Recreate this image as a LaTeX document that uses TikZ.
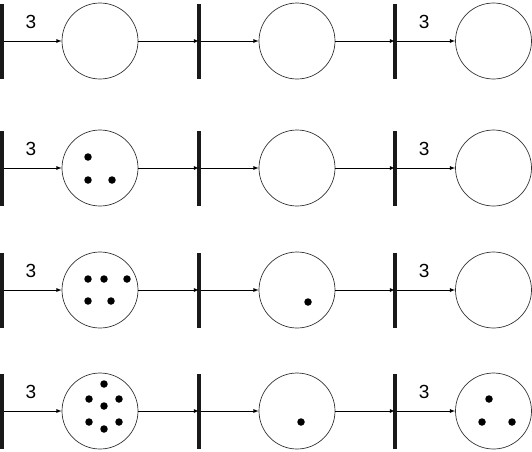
\documentclass[tikz,border=0pt]{standalone}
\usepackage{fontspec}
\setmainfont{Liberation Sans}
\usepackage{tikz}
\usetikzlibrary{arrows}
\tikzset{place/.style={circle,draw=black!80,line width=0.7pt,minimum size=76pt,inner sep=0pt},
	trans/.style={rectangle,fill=black!90,minimum width=4pt,minimum height=75pt,inner sep=0pt},
	tok/.style={circle,fill=black,minimum size=7.5pt,inner sep=0pt},
	arc/.style={->,>=latex,line width=0.8pt},
	wt/.style={midway,above=12pt,xshift=-2pt,inner sep=0pt,font=\fontsize{19}{19}\selectfont}}

\begin{document}
\begin{tikzpicture}[x=1pt,y=-1pt]
				\useasboundingbox (0,0) rectangle (532,451);
				% row 1
				\node[trans] (t11) at (2,41) {};
				\node[place] (p11) at (100,41) {};
				\node[trans] (t12) at (199,41) {};
				\node[place] (p12) at (297,41) {};
				\node[trans] (t13) at (395,41) {};
				\node[place] (p13) at (493.5,41) {};
				\draw[arc] (t11) -- (p11) node[wt]{3};
				\draw[arc] (p11) -- (t12.center);
				\draw[arc] (t12) -- (p12);
				\draw[arc] (p12) -- (t13.center);
				\draw[arc] (t13) -- (p13) node[wt]{3};
				% row 2
				\node[trans] (t21) at (2,168) {};
				\node[place] (p21) at (100,168) {};
				\node[trans] (t22) at (199,168) {};
				\node[place] (p22) at (297,168) {};
				\node[trans] (t23) at (395,168) {};
				\node[place] (p23) at (493.5,168) {};
				\draw[arc] (t21) -- (p21) node[wt]{3};
				\draw[arc] (p21) -- (t22.center);
				\draw[arc] (t22) -- (p22);
				\draw[arc] (p22) -- (t23.center);
				\draw[arc] (t23) -- (p23) node[wt]{3};
				\node[tok] (k211) at (88,157) {};
				\node[tok] (k212) at (88,180) {};
				\node[tok] (k213) at (112,180) {};
				% row 3
				\node[trans] (t31) at (2,290) {};
				\node[place] (p31) at (100,290) {};
				\node[trans] (t32) at (199,290) {};
				\node[place] (p32) at (297,290) {};
				\node[trans] (t33) at (395,290) {};
				\node[place] (p33) at (493.5,290) {};
				\draw[arc] (t31) -- (p31) node[wt]{3};
				\draw[arc] (p31) -- (t32.center);
				\draw[arc] (t32) -- (p32);
				\draw[arc] (p32) -- (t33.center);
				\draw[arc] (t33) -- (p33) node[wt]{3};
				\node[tok] (k311) at (88,279) {};
				\node[tok] (k312) at (104,279) {};
				\node[tok] (k313) at (127,279) {};
				\node[tok] (k314) at (88,301) {};
				\node[tok] (k315) at (111,301) {};
				\node[tok] (k321) at (308,302) {};
				% row 4
				\node[trans] (t41) at (2,411) {};
				\node[place] (p41) at (100,411) {};
				\node[trans] (t42) at (199,411) {};
				\node[place] (p42) at (297,411) {};
				\node[trans] (t43) at (395,411) {};
				\node[place] (p43) at (493.5,411) {};
				\draw[arc] (t41) -- (p41) node[wt]{3};
				\draw[arc] (p41) -- (t42.center);
				\draw[arc] (t42) -- (p42);
				\draw[arc] (p42) -- (t43.center);
				\draw[arc] (t43) -- (p43) node[wt]{3};
				\node[tok] (k411) at (104,384) {};
				\node[tok] (k412) at (89,399) {};
				\node[tok] (k413) at (119,399) {};
				\node[tok] (k414) at (104,406) {};
				\node[tok] (k415) at (89,422) {};
				\node[tok] (k416) at (119,422) {};
				\node[tok] (k417) at (104,429) {};
				\node[tok] (k421) at (301,422) {};
				\node[tok] (k431) at (489,399) {};
				\node[tok] (k432) at (482,422) {};
				\node[tok] (k433) at (512,422) {};
			\end{tikzpicture}
\end{document}
